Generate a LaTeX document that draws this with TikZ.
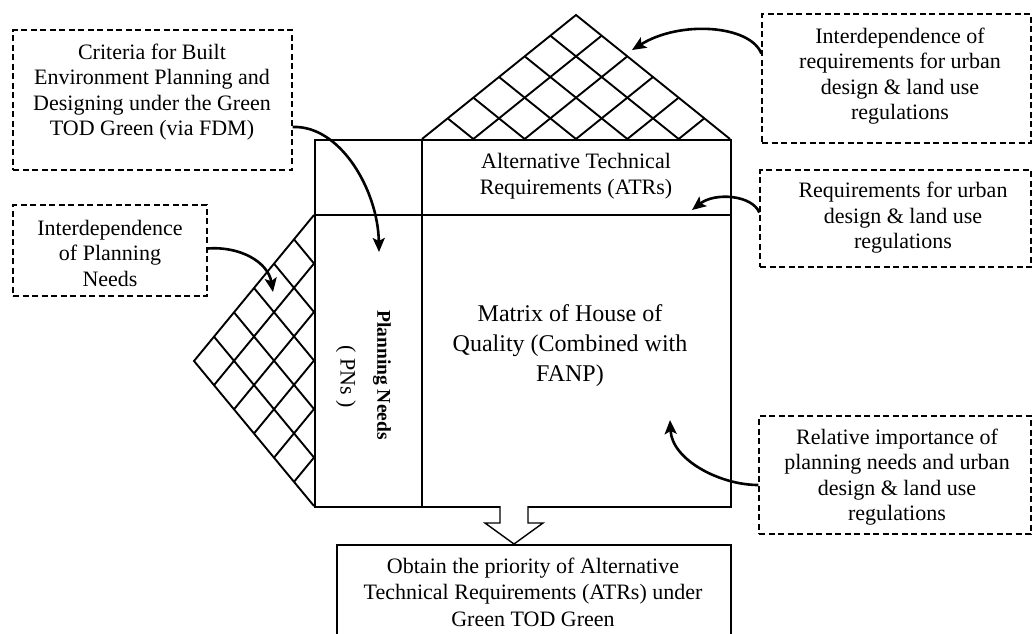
\documentclass[tikz,border=0pt]{standalone}
\usepackage{fontspec}
\setmainfont{Liberation Serif}
\usetikzlibrary{arrows.meta,calc}
\begin{document}
\begin{tikzpicture}[x=1pt,y=-1pt,
  hqline/.style={line width=2.4pt},
  gridline/.style={line width=1.9pt},
  dbox/.style={draw, line width=1.3pt, dash pattern=on 6pt off 3.5pt, inner sep=0pt},
  sbox/.style={draw, line width=1.5pt, inner sep=0pt},
  anntext/.style={align=center, inner sep=0pt, font=\fontsize{22}{25.5}\selectfont},
  conn/.style={line width=2.6pt, -{Stealth[length=14pt,width=12pt,inset=3pt]}},
]
\useasboundingbox (0,0) rectangle (1035,633);
\clip (0,0) rectangle (1035,633);

% roof
\coordinate (L) at (422,139);
\coordinate (A) at (576,15);
\coordinate (R) at (730,139);
\draw[gridline, line join=miter] (L) -- (A) -- (R);
\foreach \k [evaluate=\k as \f using \k/6] in {1,...,5} {
  \draw[gridline] ($(L)!\f!(A)$) -- ($(L)!\f!(R)$);
  \draw[gridline] ($(R)!\f!(A)$) -- ($(R)!\f!(L)$);
}

% left triangle
\coordinate (T) at (314,215);
\coordinate (P) at (194,361);
\coordinate (B) at (314,506);
\draw[gridline, line join=miter] (T) -- (P) -- (B);
\foreach \k [evaluate=\k as \f using \k/6] in {1,...,5} {
  \draw[gridline] ($(T)!\f!(P)$) -- ($(T)!\f!(B)$);
  \draw[gridline] ($(B)!\f!(P)$) -- ($(B)!\f!(T)$);
}

% house of quality main box
\node[draw, hqline, fill=none, minimum width=416pt, minimum height=367pt, inner sep=0pt, anchor=north west] (hoq) at (314,139) {};
\draw[hqline] (422,139) -- (422,506);
\draw[hqline] (314,215) -- (730,215);

\node[anntext, font=\fontsize{22}{26}\selectfont] (atr) at (576,176) {Alternative Technical\\Requirements (ATRs)};
\node[anntext, font=\fontsize{24}{30}\selectfont] (mat) at (570,346) {Matrix of House of\\Quality (Combined with\\FANP)};
\node[inner sep=0pt, rotate=-90, font=\bfseries\fontsize{19.5}{22}\selectfont] (pn) at (382,375) {Planning Needs};
\node[inner sep=0pt, rotate=-90, font=\fontsize{22}{26}\selectfont] (pns) at (346,377) {( PNs )};

% annotation boxes
\node[dbox, minimum width=279pt, minimum height=140pt] (c1) at (152.5,100) {};
\node[dbox, minimum width=194pt, minimum height=91pt] (c2) at (110,250.5) {};
\node[dbox, minimum width=269pt, minimum height=129pt] (c3) at (896.5,78.5) {};
\node[dbox, minimum width=271pt, minimum height=97pt] (c4) at (895.5,218.5) {};
\node[dbox, minimum width=272pt, minimum height=118pt] (c5) at (895,475) {};
\node[sbox, minimum width=394pt, minimum height=110pt, anchor=north west] (res) at (336,544) {};

\node[anntext] (t1) at (152,92) {Criteria for Built\\Environment Planning and\\Designing under the Green\\TOD Green (via FDM)};
\node[anntext] (t2) at (110,253) {Interdependence\\of Planning\\Needs};
\node[anntext] (t3) at (900,76) {Interdependence of\\requirements for urban\\design \& land use\\regulations};
\node[anntext] (t4) at (903,218) {Requirements for urban\\design \& land use\\regulations};
\node[anntext] (t5) at (897,477) {Relative importance of\\planning needs and urban\\design \& land use\\regulations};
\node[anntext, font=\fontsize{22}{26.5}\selectfont] (t6) at (533,592) {Obtain the priority of Alternative\\Technical Requirements (ATRs) under\\Green TOD Green};

% hollow arrow from matrix to result
\draw[line width=1.4pt, fill=white, line join=miter] (500,506) -- (500,523) -- (485,523) -- (514,544) -- (543,523) -- (528,523) -- (528,506);

% arrow tips
\coordinate (tip1) at (379,252);
\coordinate (tip2) at (273,292);
\coordinate (tip3) at (632,50);
\coordinate (tip4) at (692,210);
\coordinate (tip5) at (670,420);

\draw[conn] ([yshift=-27pt]c1.east) .. controls (340,125) and (378,190) .. (tip1);
\draw[conn] ([yshift=2pt]c2.east) .. controls (240,246) and (268,262) .. (tip2);
\draw[conn] ([yshift=25pt]c3.west) .. controls (750,25) and (680,20) .. (tip3);
\draw[conn] ([yshift=6pt]c4.west) .. controls (752,195) and (715,192) .. (tip4);
\draw[conn] ([yshift=-10pt]c5.west) .. controls (720,485) and (672,460) .. (tip5);
\end{tikzpicture}
\end{document}
